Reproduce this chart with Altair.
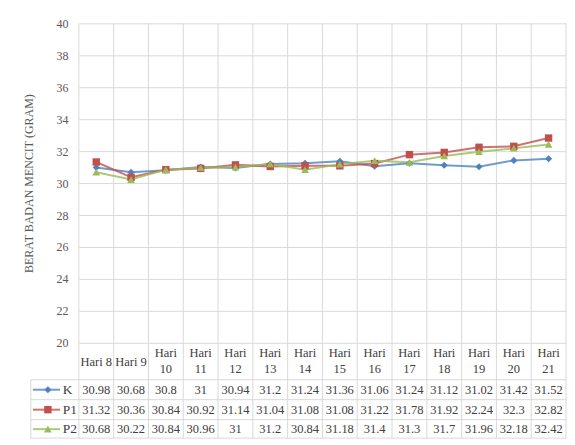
import altair as alt
import pandas as pd

days = list(range(8, 22))
head_line1 = ["Hari 8", "Hari 9"] + ["Hari"] * 12
head_line2 = [""] * 2 + [str(d) for d in range(10, 22)]
series = ["K", "P1", "P2"]
K = [30.98, 30.68, 30.8, 31, 30.94, 31.2, 31.24, 31.36, 31.06, 31.24, 31.12, 31.02, 31.42, 31.52]
P1 = [31.32, 30.36, 30.84, 30.92, 31.14, 31.04, 31.08, 31.08, 31.22, 31.78, 31.92, 32.24, 32.3, 32.82]
P2 = [30.68, 30.22, 30.84, 30.96, 31, 31.2, 30.84, 31.18, 31.4, 31.3, 31.7, 31.96, 32.18, 32.42]
y_ticks = list(range(20, 41, 2))

colors = ["#4F81BD", "#C0504D", "#9BBB59"]
shapes = ["diamond", "square", "triangle-up"]
GRID = "#d9d9d9"
FONT = "'Liberation Serif', 'Times New Roman', 'DejaVu Serif', serif"
TXT = "#404040"

values = {"K": K, "P1": P1, "P2": P2}
rows = []
for s in series:
    for d, v in zip(days, values[s]):
        rows.append({"day": d, "series": s, "value": v, "label": f"{v:g}"})
df = pd.DataFrame(rows)

bounds = [d - 0.5 for d in days] + [days[-1] + 0.5]
xdom = [bounds[0], bounds[-1]]

color = alt.Color("series:N", scale=alt.Scale(domain=series, range=colors), legend=None)
shape = alt.Shape("series:N", scale=alt.Scale(domain=series, range=shapes), legend=None)
size = alt.Size("series:N", scale=alt.Scale(domain=series, range=[50, 60, 60]), legend=None)

y_axis = alt.Axis(values=y_ticks, grid=True, gridColor=GRID, ticks=False, tickSize=0,
                  domain=False, title="BERAT BADAN MENCIT (GRAM)", labelOverlap=False,
                  labelFont=FONT, labelFontSize=12, labelColor="#595959", labelPadding=11,
                  titleFont=FONT, titleFontSize=12, titleFontWeight="normal",
                  titleColor="#595959", titlePadding=20)
y_scale = alt.Scale(domain=[20, 40], nice=False, zero=False)
x_top = alt.X("day:Q", scale=alt.Scale(domain=xdom, nice=False, zero=False), axis=None)
y_top = alt.Y("value:Q", scale=y_scale, axis=y_axis)

vgrid_df = pd.DataFrame({"day": bounds, "lo": [20] * len(bounds), "hi": [40] * len(bounds)})
vgrid = alt.Chart(vgrid_df).mark_rule(color=GRID, strokeWidth=1).encode(
    x=x_top, y=alt.Y("lo:Q", scale=y_scale, axis=y_axis), y2="hi:Q")

base = alt.Chart(df)
lines = base.mark_line(strokeWidth=2, opacity=0.8).encode(x=x_top, y=y_top, color=color)
points = base.mark_point(filled=True, opacity=1).encode(x=x_top, y=y_top, color=color, shape=shape, size=size)
top = alt.layer(vgrid, lines, points).properties(width=488, height=320)

# ---- data table below ----
HEAD_H, ROW_H = 37, 20
TOTAL_H = 96
row_y = {"K": 47, "P1": 67, "P2": 86.5}
LEFT = 6.12        # left edge of row-header column (in day units)
LEG_X1, LEG_X2, LEG_M, LEG_T = 6.18, 6.96, 6.61, 7.04

x_t = alt.X("x:Q", scale=alt.Scale(domain=xdom, nice=False, zero=False), axis=None)
y_t = alt.Y("y:Q", scale=alt.Scale(domain=[0, TOTAL_H], nice=False, zero=False, reverse=True), axis=None)

vrules = pd.DataFrame([{"x": b, "y": 0, "y2": TOTAL_H} for b in bounds] +
                      [{"x": LEFT, "y": HEAD_H, "y2": TOTAL_H}])
hrules = pd.DataFrame([{"x": LEFT, "x2": xdom[1], "y": yy}
                       for yy in [HEAD_H, HEAD_H + ROW_H, HEAD_H + 2 * ROW_H, TOTAL_H - 0.5]])

vr = alt.Chart(vrules).mark_rule(color=GRID, strokeWidth=1, clip=False).encode(x=x_t, y=y_t, y2="y2:Q")
hr = alt.Chart(hrules).mark_rule(color=GRID, strokeWidth=1, clip=False).encode(x=x_t, x2="x2:Q", y=y_t)

head_rows = []
for d, t1, t2 in zip(days, head_line1, head_line2):
    if t2:
        head_rows.append({"x": d, "y": 10.5, "t": t1})
        head_rows.append({"x": d, "y": 26, "t": t2})
    else:
        head_rows.append({"x": d, "y": 19, "t": t1})
head = alt.Chart(pd.DataFrame(head_rows)).mark_text(font=FONT, fontSize=12.5, color=TXT,
                                                     baseline="middle").encode(x=x_t, y=y_t, text="t:N")

cell_df = df.assign(x=df["day"], y=df["series"].map(row_y))
cells = alt.Chart(cell_df).mark_text(font=FONT, fontSize=12.5, color=TXT, baseline="middle").encode(
    x=x_t, y=y_t, text="label:N")

leg_line_df = pd.DataFrame([{"series": s, "x": LEG_X1, "x2": LEG_X2, "y": row_y[s]} for s in series])
leg_lines = alt.Chart(leg_line_df).mark_rule(strokeWidth=2, opacity=0.8, clip=False).encode(
    x=x_t, x2="x2:Q", y=y_t, color=color)
leg_pt_df = pd.DataFrame([{"series": s, "x": LEG_M, "y": row_y[s]} for s in series])
leg_pts = alt.Chart(leg_pt_df).mark_point(filled=True, opacity=1, clip=False).encode(
    x=x_t, y=y_t, color=color, shape=shape, size=size)
leg_txt_df = pd.DataFrame([{"series": s, "x": LEG_T, "y": row_y[s]} for s in series])
leg_txt = alt.Chart(leg_txt_df).mark_text(font=FONT, fontSize=13.5, color=TXT, align="left",
                                          baseline="middle", clip=False).encode(x=x_t, y=y_t, text="series:N")

table = alt.layer(vr, hr, head, cells, leg_lines, leg_pts, leg_txt).properties(width=488, height=TOTAL_H)

chart = alt.vconcat(top, table, spacing=0, bounds="flush").resolve_scale(
    x="independent", y="independent").properties(
    padding={"left": 15, "top": 9, "right": 0, "bottom": 0}
).configure(font=FONT).configure_view(stroke=None)

chart.save("out.html", embed_options={"renderer": "svg", "actions": False})
